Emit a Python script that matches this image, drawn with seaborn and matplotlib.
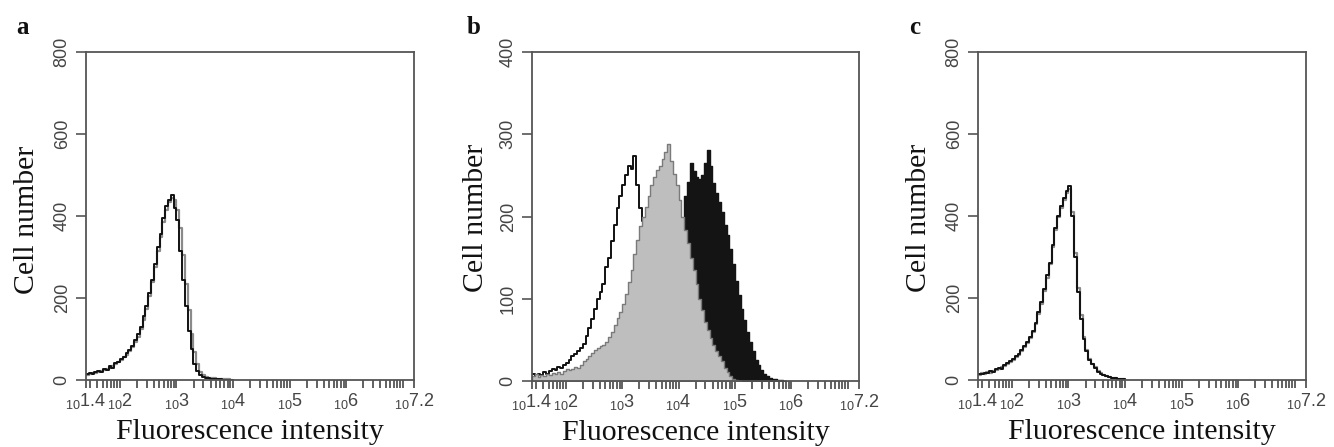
import numpy as np
import pandas as pd
import matplotlib
matplotlib.use("Agg")
import matplotlib.pyplot as plt
import seaborn as sns
from matplotlib import font_manager
from matplotlib.ticker import FixedLocator, FixedFormatter, NullFormatter

# ---------------- data (counts per 0.05-decade channel, starting at 10^1.4) ----------------
LOG_START = 1.4
BIN_W = 0.05

a_black = [15, 17, 14, 20, 22, 19, 27, 25, 33, 30,
           42, 45, 52, 55, 66, 72, 84, 98, 112, 130,
           155, 180, 212, 245, 282, 325, 355, 395, 425, 440,
           452, 420, 390, 315, 245, 180, 120, 75, 40, 22,
           12, 7, 5, 4, 3, 3, 2, 2, 1, 1, 0, 0]
a_gray = [12, 14, 16, 18, 20, 22, 24, 28, 30, 34,
          38, 44, 50, 56, 62, 70, 80, 92, 106, 124,
          146, 172, 204, 238, 275, 315, 350, 385, 415, 435,
          445, 438, 415, 370, 305, 235, 170, 112, 68, 38,
          20, 12, 8, 6, 5, 4, 3, 3, 2, 2, 2, 1]

b_control = [8, 5, 9, 7, 11, 9, 12, 14, 13, 17,
             16, 20, 22, 26, 30, 33, 36, 40, 45, 55,
             65, 75, 88, 100, 108, 118, 138, 150, 170, 190,
             210, 225, 238, 250, 262, 258, 274, 238, 210, 195,
             170, 150, 130, 110, 90, 72, 56, 42, 30, 20,
             14, 9, 5, 3, 2, 1]
b_gray = [6, 8, 5, 7, 6, 9, 7, 10, 8, 11,
          9, 12, 14, 13, 15, 17, 16, 20, 24, 27,
          30, 34, 38, 40, 42, 44, 48, 54, 60, 68,
          76, 84, 94, 106, 120, 135, 155, 172, 188, 200,
          212, 225, 238, 248, 256, 262, 270, 278, 288, 268,
          252, 238, 220, 200, 184, 168, 150, 135, 118, 100,
          86, 72, 62, 52, 44, 36, 30, 24, 16, 11,
          6, 3, 1, 0]
b_black = [0, 0, 0, 0, 0, 0, 0, 0, 0, 0,
           0, 0, 0, 0, 0, 0, 1, 1, 1, 1,
           1, 1, 2, 2, 2, 3, 3, 3, 4, 4,
           5, 6, 8, 10, 12, 15, 18, 22, 27, 33,
           40, 48, 58, 70, 84, 98, 114, 130, 148, 165,
           180, 192, 200, 198, 225, 242, 265, 255, 248, 246,
           250, 265, 281, 262, 241, 228, 218, 205, 190, 178,
           160, 142, 122, 104, 88, 74, 60, 48, 36, 26,
           19, 13, 9, 6, 4, 3, 2, 1, 1, 0]

c_black = [15, 14, 18, 16, 22, 20, 26, 30, 28, 36,
           42, 46, 52, 58, 64, 72, 82, 92, 105, 120,
           140, 165, 190, 222, 255, 285, 330, 370, 400, 425,
           445, 460, 472, 400, 300, 215, 150, 100, 70, 50,
           38, 30, 20, 15, 11, 9, 7, 5, 4, 3, 3, 2]
c_gray = [12, 16, 15, 19, 18, 23, 24, 28, 31, 34,
          40, 44, 50, 56, 62, 70, 80, 90, 102, 118,
          136, 160, 186, 218, 250, 282, 325, 365, 398, 420,
          440, 455, 465, 410, 310, 225, 158, 104, 72, 52,
          40, 31, 22, 16, 12, 9, 7, 5, 4, 3, 2, 2]

panel_letters = ["a", "b", "c"]
y_maxes = [800, 400, 800]
y_steps = [200, 100, 200]
x_label = "Fluorescence intensity"
y_label = "Cell number"
x_tick_exps = [1.4, 2, 3, 4, 5, 6, 7.2]

# ---------------- style ----------------
sns.set_style("ticks")
names = {f.name for f in font_manager.fontManager.ttflist}
tick_font = "Liberation Sans Narrow" if "Liberation Sans Narrow" in names else "Liberation Sans"
plt.rcParams["font.family"] = [tick_font, "DejaVu Sans"]
plt.rcParams["mathtext.default"] = "regular"

SPINE = "#555555"
TICKTXT = "#444444"

fig = plt.figure(figsize=(13.34, 4.47), dpi=100)
W, H = 1334, 447
boxes = [(86, 52, 328, 328), (532, 52, 327, 329), (978, 52, 328, 328)]
axes = [fig.add_axes([l / W, 1 - (t + h) / H, w / W, h / H]) for (l, t, w, h) in boxes]


def hist(ax, counts, **kw):
    counts = np.asarray(counts, float)
    centers = LOG_START + BIN_W * (np.arange(len(counts)) + 0.5)
    df = pd.DataFrame({"intensity": 10 ** centers, "cells": counts})
    sns.histplot(data=df, x="intensity", weights="cells", binwidth=BIN_W,
                 binrange=(LOG_START, LOG_START + BIN_W * len(counts)),
                 log_scale=True, element="step", ax=ax, **kw)


# panel a
hist(axes[0], a_gray, fill=False, color="#8a8a8a", linewidth=1.6)
hist(axes[0], a_black, fill=False, color="#111111", linewidth=1.4)
# panel b (control outline sits behind the filled histograms)
hist(axes[1], b_control, fill=False, color="#111111", linewidth=1.4, zorder=0.5)
hist(axes[1], b_black, fill=True, color="#141414", edgecolor="#141414", alpha=1,
     linewidth=1.0, zorder=0.7)
hist(axes[1], b_gray, fill=True, color="#bebebe", edgecolor="#7a7a7a", alpha=1,
     linewidth=1.0, zorder=0.9)
# panel c
hist(axes[2], c_gray, fill=False, color="#8a8a8a", linewidth=1.6)
hist(axes[2], c_black, fill=False, color="#111111", linewidth=1.4)

minor_pos = [k * 10.0 ** d for d in range(1, 8) for k in range(1, 10)
             if 10 ** 1.4 <= k * 10.0 ** d <= 10 ** 7.2]
x_labels = [r"$_{10}$" + (f"{e:g}") for e in x_tick_exps]

ylab_x = [-0.14, -0.131, -0.14]
ylab_y = [0.488, 0.495, 0.495]
letter_x = [16, 467, 909]

for i, ax in enumerate(axes):
    ax.set_xlim(10 ** 1.4, 10 ** 7.2)
    ax.set_ylim(0, y_maxes[i])
    ax.xaxis.set_major_locator(FixedLocator([10.0 ** e for e in x_tick_exps]))
    ax.xaxis.set_major_formatter(FixedFormatter(x_labels))
    ax.xaxis.set_minor_locator(FixedLocator(minor_pos))
    ax.xaxis.set_minor_formatter(NullFormatter())
    ax.set_yticks(np.arange(0, y_maxes[i] + 1, y_steps[i]))
    for s in ax.spines.values():
        s.set_visible(True)
        s.set_color(SPINE)
        s.set_linewidth(1.3)
    ax.tick_params(axis="x", which="both", length=6, width=1.3, color=SPINE,
                   direction="out", pad=2, labelsize=13, labelcolor=TICKTXT)
    ax.tick_params(axis="y", which="major", length=7, width=1.2, color=SPINE,
                   direction="out", pad=4, labelsize=13, labelcolor=TICKTXT)
    for lab in ax.get_yticklabels():
        lab.set_rotation(90)
        lab.set_va("center")
    ax.set_xlabel(x_label, family="Liberation Serif", fontsize=21.5, color="#111111")
    ax.set_ylabel(y_label, family="Liberation Serif", fontsize=21.5, color="#111111")
    ax.xaxis.set_label_coords(0.5, -0.12)
    ax.yaxis.set_label_coords(ylab_x[i], ylab_y[i])
    fig.text(letter_x[i] / W, 1 - 34 / H, panel_letters[i], family="Liberation Serif",
             fontweight="bold", fontsize=18, ha="left", va="baseline", color="#111111")

fig.savefig("out.png", dpi=100)
